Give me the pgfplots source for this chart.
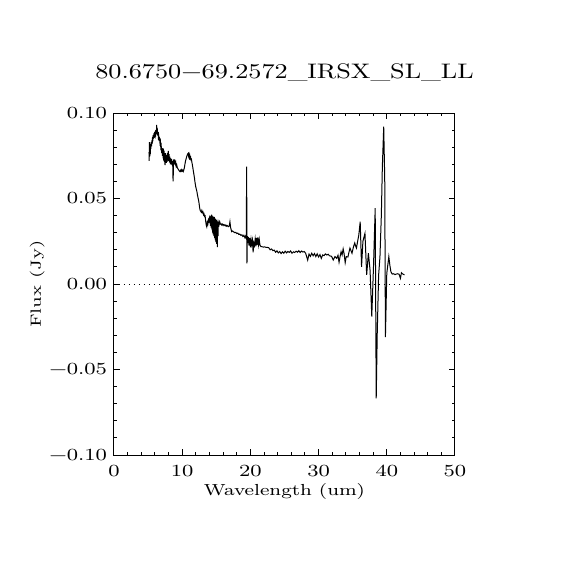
\documentclass[border=0pt]{standalone}
\usepackage{pgfplots}
\pgfplotsset{compat=1.18}
\usepackage{fontspec}
\setmainfont{Latin Modern Roman}[FakeStretch=1.25]
\newcommand\fs[1]{\fontsize{#1}{#1}\selectfont}
\pgfplotstableread{
x y
5.13 0.0770
5.16 0.0720
5.20 0.0830
5.24 0.0745
5.28 0.0815
5.32 0.0760
5.36 0.0820
5.40 0.0790
5.45 0.0830
5.50 0.0805
5.55 0.0840
5.60 0.0820
5.65 0.0860
5.70 0.0835
5.75 0.0870
5.80 0.0850
5.85 0.0880
5.90 0.0855
5.95 0.0890
6.00 0.0862
6.05 0.0880
6.10 0.0870
6.15 0.0900
6.20 0.0875
6.26 0.0930
6.30 0.0880
6.35 0.0910
6.40 0.0870
6.45 0.0890
6.50 0.0860
6.55 0.0870
6.62 0.0845
6.68 0.0850
6.74 0.0825
6.80 0.0835
6.86 0.0800
6.92 0.0810
7.00 0.0765
7.05 0.0790
7.10 0.0750
7.15 0.0795
7.20 0.0735
7.25 0.0790
7.30 0.0720
7.35 0.0780
7.40 0.0715
7.45 0.0745
7.48 0.0696
7.52 0.0765
7.58 0.0712
7.62 0.0750
7.68 0.0708
7.72 0.0755
7.78 0.0715
7.84 0.0765
7.90 0.0722
7.96 0.0778
8.02 0.0720
8.08 0.0760
8.14 0.0712
8.20 0.0745
8.26 0.0700
8.32 0.0735
8.38 0.0702
8.44 0.0730
8.50 0.0695
8.56 0.0720
8.62 0.0685
8.66 0.0600
8.70 0.0650
8.74 0.0728
8.80 0.0700
8.86 0.0728
8.92 0.0705
8.98 0.0700
9.05 0.0712
9.12 0.0688
9.20 0.0696
9.28 0.0680
9.36 0.0675
9.44 0.0670
9.52 0.0665
9.60 0.0660
9.68 0.0657
9.76 0.0665
9.84 0.0660
9.92 0.0668
10.00 0.0660
10.08 0.0665
10.16 0.0658
10.24 0.0668
10.32 0.0680
10.40 0.0700
10.48 0.0718
10.56 0.0730
10.64 0.0742
10.72 0.0752
10.80 0.0760
10.88 0.0764
10.94 0.0748
11.00 0.0758
11.06 0.0740
11.12 0.0750
11.18 0.0735
11.24 0.0740
11.30 0.0725
11.36 0.0728
11.42 0.0712
11.48 0.0700
11.56 0.0680
11.64 0.0660
11.72 0.0640
11.80 0.0620
11.86 0.0600
11.92 0.0585
11.98 0.0570
12.04 0.0560
12.10 0.0550
12.16 0.0540
12.24 0.0520
12.32 0.0505
12.40 0.0490
12.48 0.0470
12.56 0.0445
12.64 0.0430
12.72 0.0425
12.80 0.0420
12.88 0.0430
12.96 0.0418
13.04 0.0422
13.12 0.0405
13.20 0.0410
13.28 0.0395
13.36 0.0398
13.44 0.0370
13.52 0.0345
13.60 0.0335
13.68 0.0360
13.76 0.0350
13.84 0.0375
13.92 0.0365
14.00 0.0385
14.06 0.0370
14.10 0.0395
14.15 0.0340
14.20 0.0400
14.25 0.0330
14.30 0.0405
14.35 0.0320
14.40 0.0400
14.45 0.0300
14.50 0.0395
14.55 0.0290
14.60 0.0390
14.65 0.0280
14.70 0.0392
14.75 0.0270
14.80 0.0385
14.85 0.0255
14.90 0.0380
14.95 0.0245
15.00 0.0375
15.05 0.0235
15.10 0.0370
15.15 0.0215
15.20 0.0365
15.25 0.0280
15.30 0.0360
15.40 0.0345
15.50 0.0364
15.60 0.0350
15.70 0.0352
15.80 0.0345
15.90 0.0350
16.00 0.0342
16.10 0.0348
16.20 0.0345
16.30 0.0340
16.40 0.0345
16.50 0.0338
16.60 0.0342
16.76 0.0335
16.90 0.0340
17.00 0.0364
17.10 0.0330
17.26 0.0306
17.40 0.0310
17.55 0.0305
17.70 0.0300
17.85 0.0302
18.00 0.0295
18.15 0.0298
18.30 0.0290
18.45 0.0292
18.60 0.0285
18.75 0.0288
18.90 0.0278
19.05 0.0285
19.20 0.0270
19.30 0.0280
19.40 0.0268
19.45 0.0686
19.50 0.0121
19.55 0.0280
19.60 0.0240
19.70 0.0275
19.80 0.0225
19.90 0.0270
20.00 0.0215
20.10 0.0260
20.20 0.0230
20.30 0.0255
20.40 0.0185
20.50 0.0240
20.60 0.0225
20.70 0.0262
20.80 0.0220
20.90 0.0270
21.00 0.0228
21.10 0.0272
21.20 0.0230
21.30 0.0260
21.40 0.0228
21.55 0.0219
21.70 0.0218
21.90 0.0216
22.10 0.0217
22.30 0.0214
22.50 0.0214
22.70 0.0212
22.90 0.0200
23.10 0.0205
23.30 0.0195
23.50 0.0198
23.70 0.0186
23.90 0.0194
24.10 0.0182
24.30 0.0190
24.50 0.0178
24.70 0.0188
24.90 0.0180
25.10 0.0192
25.30 0.0182
25.50 0.0190
25.70 0.0185
25.90 0.0193
26.10 0.0180
26.30 0.0188
26.50 0.0184
26.70 0.0192
26.90 0.0186
27.10 0.0195
27.30 0.0184
27.50 0.0193
27.70 0.0187
27.90 0.0190
28.10 0.0180
28.40 0.0140
28.60 0.0175
28.80 0.0162
29.00 0.0180
29.20 0.0165
29.40 0.0178
29.60 0.0160
29.80 0.0176
30.00 0.0158
30.20 0.0172
30.40 0.0150
30.60 0.0170
30.80 0.0166
31.00 0.0176
31.20 0.0170
31.40 0.0174
31.60 0.0165
31.90 0.0162
32.15 0.0140
32.40 0.0160
32.65 0.0150
32.85 0.0168
33.00 0.0127
33.15 0.0160
33.30 0.0189
33.45 0.0170
33.60 0.0205
33.75 0.0175
33.90 0.0125
34.05 0.0160
34.30 0.0158
34.45 0.0185
34.60 0.0210
34.75 0.0195
34.90 0.0180
35.10 0.0215
35.30 0.0240
35.45 0.0220
35.55 0.0210
35.75 0.0255
35.90 0.0287
36.10 0.0364
36.30 0.0101
36.50 0.0250
36.80 0.0296
37.05 0.0053
37.30 0.0180
37.55 0.0080
37.80 -0.0190
38.05 0.0100
38.30 0.0443
38.45 -0.0669
38.60 -0.0290
38.80 0.0050
39.00 0.0160
39.20 0.0400
39.35 0.0686
39.55 0.0920
39.70 0.0610
39.80 -0.0310
40.00 0.0062
40.30 0.0160
40.45 0.0110
40.60 0.0072
40.80 0.0058
41.00 0.0060
41.20 0.0055
41.40 0.0058
41.60 0.0060
41.80 0.0057
42.00 0.0033
42.15 0.0066
42.35 0.0058
42.60 0.0053
}\spectrum
\begin{document}
\begin{tikzpicture}[x=1pt,y=1pt]
\path[use as bounding box] (0,0) rectangle (285,285);
\begin{axis}[
  at={(57pt,57.5pt)}, anchor=south west,
  scale only axis, width=170.5pt, height=171pt,
  xmin=0, xmax=50, ymin=-0.1, ymax=0.1,
  xtick={0,10,20,30,40,50}, xticklabels={0,10,20,30,40,50},
  ytick={-0.1,-0.05,0,0.05,0.1},
  yticklabels={−0.10,−0.05,0.00,0.05,0.10},
  minor x tick num=4, minor y tick num=4,
  tick align=inside, major tick length=3pt, minor tick length=1.5pt,
  axis line style={line width=0.5pt}, every tick/.style={line width=0.5pt},
  tick label style={font=\fs{8.5}},
  xticklabel style={yshift=-1.5pt},
  title={80.6750−69.2572\_IRSX\_SL\_LL},
  title style={font=\fs{10.5}, at={([yshift=11.5pt]axis description cs:0.5,1)}, anchor=base},
  xlabel={Wavelength (um)},
  xlabel style={font=\fs{8}, at={([yshift=-20pt]axis description cs:0.5,0)}, anchor=base},
  ylabel={Flux (Jy)},
  ylabel style={font=\fs{7.4}, at={([xshift=-36.5pt]axis description cs:0,0.5)}, anchor=base},
  clip=true,
]
\addplot[black, line width=0.5pt, dotted, forget plot] coordinates {(0,0) (50,0)};
\addplot[black, line width=0.5pt, mark=none] table[x=x,y=y] {\spectrum};
\end{axis}
\end{tikzpicture}
\end{document}
